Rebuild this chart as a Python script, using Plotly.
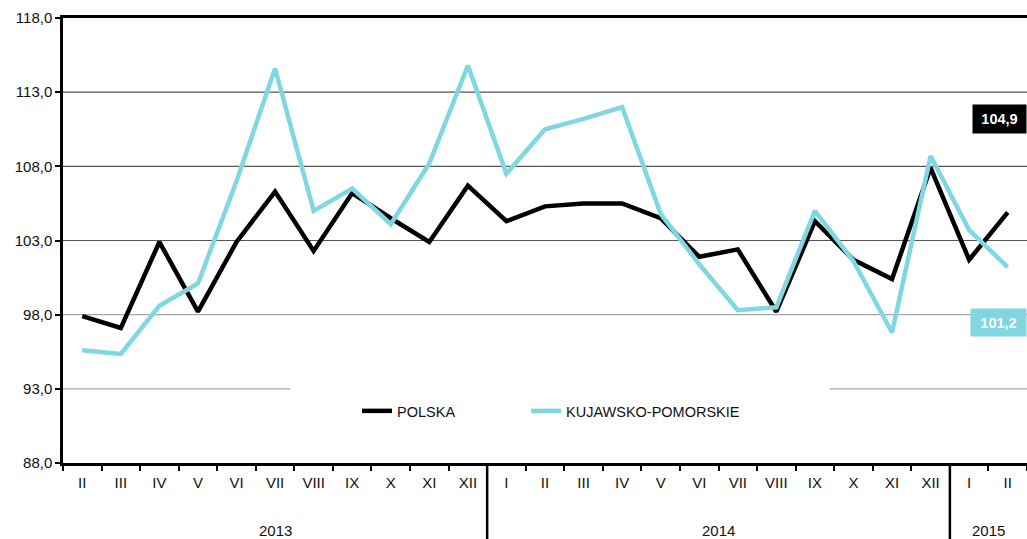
import plotly.graph_objects as go

months = ["II", "III", "IV", "V", "VI", "VII", "VIII", "IX", "X", "XI", "XII",
          "I", "II", "III", "IV", "V", "VI", "VII", "VIII", "IX", "X", "XI", "XII",
          "I", "II"]
years = ["2013", "2014", "2015"]
year_counts = [11, 12, 2]

polska = [97.9, 97.1, 102.9, 98.2, 102.9, 106.3, 102.3, 106.2, 104.5, 102.9, 106.7,
          104.3, 105.3, 105.5, 105.5, 104.5, 101.9, 102.4, 98.2, 104.3, 101.7, 100.4, 107.9,
          101.7, 104.9]
kujawsko = [95.6, 95.35, 98.6, 100.1, 107.0, 114.6, 105.0, 106.5, 104.1, 108.2, 114.8,
            107.5, 110.5, 111.2, 112.0, 104.8, 101.4, 98.3, 98.5, 105.0, 101.6, 96.8, 108.7,
            103.7, 101.2]

y_ticks = [88, 93, 98, 103, 108, 113, 118]

BLACK = "#000000"
CYAN = "#80d7e1"
FONT = "Liberation Sans, Arial"
x = list(range(len(months)))

fig = go.Figure()
fig.add_trace(go.Scatter(x=x, y=polska, mode="lines", name="POLSKA", legend="legend",
                         line=dict(color=BLACK, width=4.5), hoverinfo="skip"))
fig.add_trace(go.Scatter(x=x, y=kujawsko, mode="lines", name="KUJAWSKO-POMORSKIE", legend="legend2",
                         line=dict(color=CYAN, width=4.5), hoverinfo="skip"))

shapes = []
for v in y_ticks[1:-1]:
    col = "#555555" if v >= 103 else "#a6a6a6"
    shapes.append(dict(type="line", xref="paper", yref="y", x0=0, x1=1, y0=v, y1=v,
                       line=dict(color=col, width=1.2), layer="between"))
shapes.append(dict(type="rect", xref="paper", yref="paper", x0=0.2355, x1=0.7957,
                   y0=0.14, y1=0.19, fillcolor="white", line=dict(width=0), layer="above"))
pos = -0.5
annotations = []
for yr, cnt in zip(years, year_counts):
    center = pos + cnt / 2
    annotations.append(dict(x=center, xref="x", y=-0.151, yref="paper", text=yr,
                            showarrow=False, yanchor="middle",
                            font=dict(family=FONT, size=15, color="#111")))
    pos += cnt
    if pos < len(months) - 0.5:
        shapes.append(dict(type="line", xref="x", yref="paper", x0=pos, x1=pos,
                           y0=0, y1=-0.175, line=dict(color=BLACK, width=2.5)))

def fmt(v):
    return f"{v:.1f}".replace(".", ",")

annotations.append(dict(x=1, xref="paper", xanchor="right", y=111.16, yref="y",
                        text="<b>" + fmt(polska[-1]) + "</b>", showarrow=False,
                        bgcolor=BLACK, borderpad=6, width=41, height=16,
                        font=dict(family=FONT, size=14.5, color="white")))
annotations.append(dict(x=1, xref="paper", xanchor="right", y=97.47, yref="y",
                        text="<b>" + fmt(kujawsko[-1]) + "</b>", showarrow=False,
                        bgcolor=CYAN, borderpad=6, width=43, height=15,
                        font=dict(family=FONT, size=14.5, color="white")))

legend_font = dict(family=FONT, size=14.5, color="#111")
fig.update_layout(
    width=1027, height=539,
    margin=dict(l=63, r=0, t=18, b=76),
    paper_bgcolor="white", plot_bgcolor="white",
    separators=", ",
    showlegend=True,
    legend=dict(orientation="h", x=0.305, xanchor="left", y=0.117, yanchor="middle",
                bgcolor="rgba(0,0,0,0)", font=legend_font),
    legend2=dict(orientation="h", x=0.4803, xanchor="left", y=0.117, yanchor="middle",
                 bgcolor="rgba(0,0,0,0)", font=legend_font),
    shapes=shapes,
    annotations=annotations,
    xaxis=dict(range=[-0.5, len(months) - 0.5], tickmode="array", tickvals=x, ticktext=months,
               ticks="outside", ticklen=4, tickcolor="rgba(0,0,0,0)",
               showgrid=False, zeroline=False,
               showline=True, linecolor=BLACK, linewidth=2.5, mirror=True,
               tickfont=dict(family=FONT, size=15, color="#111"),
               minor=dict(tick0=0.5, dtick=1, ticks="outside", ticklen=5, tickwidth=2,
                          tickcolor=BLACK, showgrid=False)),
    yaxis=dict(range=[88, 118], tickmode="array", tickvals=y_ticks, ticktext=[fmt(v) for v in y_ticks],
               ticks="outside", ticklen=5, tickwidth=2, tickcolor=BLACK,
               showgrid=False, zeroline=False, showline=True, linecolor=BLACK, linewidth=2.5,
               tickfont=dict(family=FONT, size=15, color="#111")),
)

fig.write_html("out.html", config={"displayModeBar": False},
               post_script="document.body.style.margin='0';document.body.style.overflow='hidden';")
